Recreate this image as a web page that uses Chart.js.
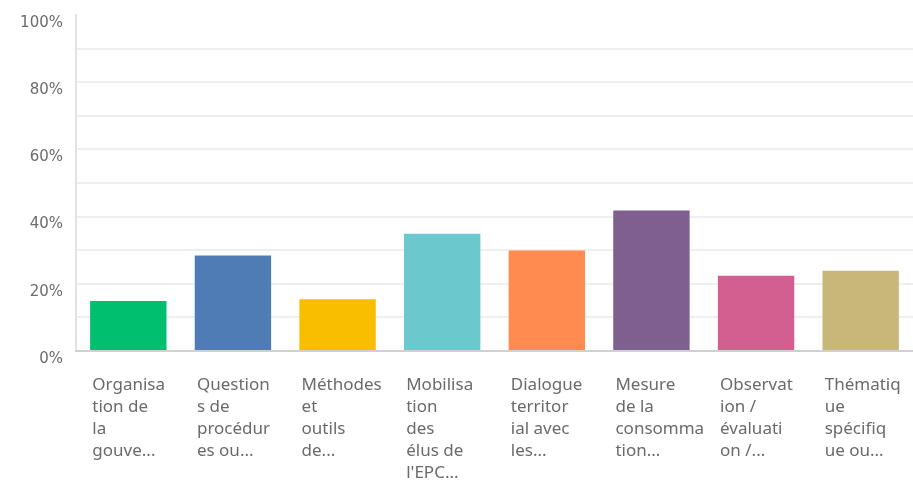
<!DOCTYPE html>
<html>
<head>
<meta charset="utf-8">
<script src="https://cdn.jsdelivr.net/npm/chart.js@4/dist/chart.umd.min.js"></script>
<style>
    html, body { margin: 0; padding: 0; background: #fff; }
    #wrap { width: 913px; height: 482px; position: relative; }
</style>
</head>
<body>
<div id="wrap"><canvas id="responseChart"></canvas></div>
<script>
// categories (already wrapped the way the survey tool cuts them)
const categories = [
    ['Organisa', 'tion de', 'la', 'gouve...'],
    ['Question', 's de', 'procédur', 'es ou...'],
    ['Méthodes', 'et', 'outils', 'de...'],
    ['Mobilisa', 'tion', 'des', 'élus de', "l'EPC..."],
    ['Dialogue', 'territor', 'ial avec', 'les...'],
    ['Mesure', 'de la', 'consomma', 'tion...'],
    ['Observat', 'ion /', 'évaluati', 'on /...'],
    ['Thématiq', 'ue', 'spécifiq', 'ue ou...']
];
const responsePercent = [14.9, 28.4, 15.4, 34.9, 29.9, 41.8, 22.4, 23.9];
const barColors = ['#00bf6f', '#507cb6', '#f9be00', '#6bc8cd', '#ff8b4f', '#7f5f90', '#d25f90', '#c7b879'];
const yTickLabels = ['0%', '20%', '40%', '60%', '80%', '100%'];

const ctx = document.getElementById('responseChart').getContext('2d');
new Chart(ctx, {
    type: 'bar',
    data: {
        labels: categories,
        datasets: [{
            label: 'Réponses',
            data: responsePercent,
            backgroundColor: barColors,
            borderWidth: 0,
            barPercentage: 0.73,
            categoryPercentage: 1
        }]
    },
    options: {
        responsive: true,
        maintainAspectRatio: false,
        animation: false,
        layout: {
            padding: { top: 15, left: 0, right: 0, bottom: 0 }
        },
        plugins: {
            legend: { display: false },
            tooltip: { enabled: false }
        },
        scales: {
            y: {
                min: 0,
                max: 100,
                afterFit: function(scale) {
                    scale.width = 76;
                    scale.paddingTop = 0;
                    scale.paddingBottom = 0;
                },
                ticks: {
                    stepSize: 10,
                    padding: 13,
                    labelOffset: 8,
                    color: '#6b6b6b',
                    font: { family: 'DejaVu Sans', size: 15 },
                    callback: function(value) {
                        return value % 20 === 0 ? yTickLabels[value / 20] : '';
                    }
                },
                grid: {
                    drawTicks: false,
                    lineWidth: 2,
                    color: function(c) {
                        const v = c.tick ? c.tick.value : null;
                        return (v === 0 || v === 100) ? 'rgba(0,0,0,0)' : '#efefef';
                    }
                },
                border: { display: true, color: '#e2e2e2', width: 2 }
            },
            x: {
                afterFit: function(scale) {
                    scale.height = 131;
                    scale.paddingLeft = 0;
                    scale.paddingRight = 0;
                },
                ticks: {
                    autoSkip: false,
                    maxRotation: 0,
                    minRotation: 0,
                    align: 'start',
                    labelOffset: -36,
                    padding: 23,
                    color: '#6a6a6a',
                    font: { family: 'Noto Sans', size: 17, lineHeight: 1.3 }
                },
                grid: { display: false, drawTicks: false },
                border: { display: true, color: '#d0d0d0', width: 2 }
            }
        }
    }
});
</script>
</body>
</html>
